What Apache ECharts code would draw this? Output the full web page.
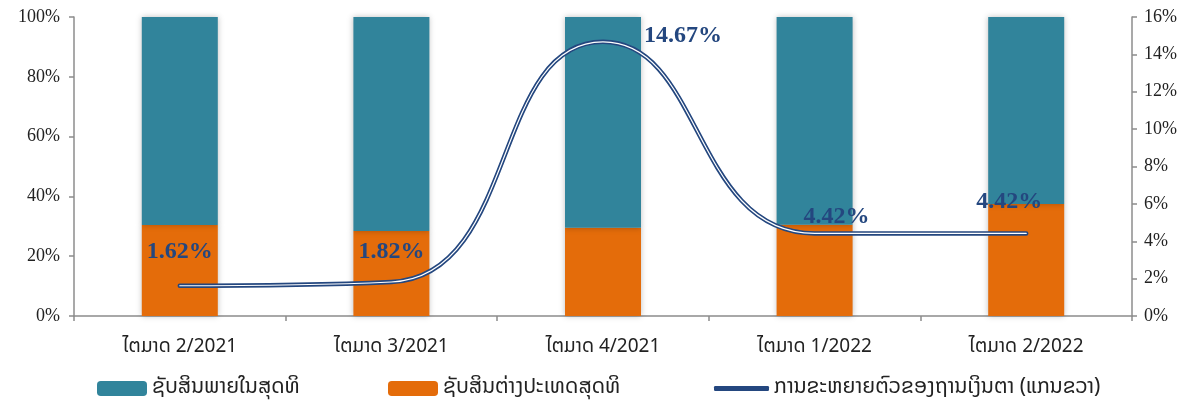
<!DOCTYPE html>
<html>
<head>
<meta charset="utf-8">
<script src="https://cdn.jsdelivr.net/npm/echarts@6/dist/echarts.min.js"></script>
<style>
html,body{margin:0;padding:0;background:#fff;}
#c{width:1195px;height:402px;}
</style>
</head>
<body>
<div id="c"></div>
<script>
var categories = ['ໄຕມາດ 2/2021', 'ໄຕມາດ 3/2021', 'ໄຕມາດ 4/2021', 'ໄຕມາດ 1/2022', 'ໄຕມາດ 2/2022'];
var foreignShare = [30.4, 28.4, 29.5, 30.5, 37.5];
var domesticShare = [69.6, 71.6, 70.5, 69.5, 62.5];
var growthRate = [1.62, 1.82, 14.67, 4.42, 4.42];
var leftTicks = [0, 20, 40, 60, 80, 100];
var rightTicks = [0, 2, 4, 6, 8, 10, 12, 14, 16];

var nameDomestic = 'ຊັບສິນພາຍໃນສຸດທິ';
var nameForeign = 'ຊັບສິນຕ່າງປະເທດສຸດທິ';
var nameGrowth = 'ການຂະຫຍາຍຕົວຂອງຖານເງິນຕາ (ແກນຂວາ)';

var laoFont = '"Noto Sans Lao", "DejaVu Sans", sans-serif';
var labelOffsets = [[0, -17], [0, -13], [36, -6], [22, 0], [-17, -15]];
var labelPositions = ['top', 'top', 'right', 'top', 'top'];

var lineData = growthRate.map(function (v, i) {
  return {
    value: v,
    label: { show: true, position: labelPositions[i], offset: labelOffsets[i] }
  };
});

var chart = echarts.init(document.getElementById('c'));
var axisColor = '#8c8c8c';
var barShadow = { shadowBlur: 6, shadowColor: 'rgba(0,0,0,0.25)', shadowOffsetX: 0, shadowOffsetY: 0 };
var legendText = { fontFamily: laoFont, fontSize: 21, color: '#222' };

chart.setOption({
  animation: false,
  backgroundColor: '#fff',
  grid: { left: 74, right: 63, top: 17, bottom: 86 },
  legend: [
    {
      data: [nameDomestic], left: 92, top: 373, itemWidth: 50, itemHeight: 15,
      textStyle: legendText
    },
    {
      data: [nameForeign], left: 383, top: 373, itemWidth: 50, itemHeight: 15,
      textStyle: legendText
    },
    {
      data: [{ name: nameGrowth, icon: 'roundRect' }], left: 709, top: 373, itemWidth: 55, itemHeight: 5,
      textStyle: legendText
    }
  ],
  xAxis: {
    type: 'category',
    data: categories,
    axisLine: { lineStyle: { color: axisColor, width: 1.5 } },
    axisTick: { show: true, alignWithLabel: false, length: 5, lineStyle: { color: axisColor, width: 1.5 } },
    axisLabel: { fontFamily: laoFont, fontSize: 19, color: '#222', margin: 22 }
  },
  yAxis: [
    {
      type: 'value', min: 0, max: 100, interval: 20,
      splitLine: { show: false },
      axisLine: { show: true, lineStyle: { color: axisColor, width: 1.5 } },
      axisTick: { show: true, length: 5, lineStyle: { color: axisColor, width: 1.5 } },
      axisLabel: {
        formatter: function (v) { return leftTicks.indexOf(v) >= 0 ? v + '%' : ''; },
        fontFamily: '"Liberation Serif", serif', fontSize: 18, color: '#222', margin: 14
      }
    },
    {
      type: 'value', min: 0, max: 16, interval: 2, position: 'right',
      splitLine: { show: false },
      axisLine: { show: true, lineStyle: { color: axisColor, width: 1.5 } },
      axisTick: { show: true, length: 5, lineStyle: { color: axisColor, width: 1.5 } },
      axisLabel: {
        formatter: function (v) { return rightTicks.indexOf(v) >= 0 ? v + '%' : ''; },
        fontFamily: '"Liberation Serif", serif', fontSize: 18, color: '#222', margin: 12
      }
    }
  ],
  series: [
    {
      name: nameForeign, type: 'bar', stack: 'share', data: foreignShare, barWidth: 76,
      itemStyle: Object.assign({ color: '#E46C0A' }, barShadow), z: 2
    },
    {
      name: nameDomestic, type: 'bar', stack: 'share', data: domesticShare, barWidth: 76,
      itemStyle: Object.assign({ color: '#31849B' }, barShadow), z: 2
    },
    {
      name: nameGrowth, type: 'line', yAxisIndex: 1, data: lineData, smooth: 0.5,
      symbol: 'circle', symbolSize: 0.1, showSymbol: true, z: 5,
      lineStyle: { color: '#24477F', width: 4.5, cap: 'round' },
      itemStyle: { color: '#24477F' },
      label: {
        show: true,
        formatter: function (p) { return p.value.toFixed(2) + '%'; },
        fontFamily: '"Liberation Serif", serif', fontWeight: 'bold', fontSize: 24, color: '#24477F'
      }
    },
    {
      name: 'inner', type: 'line', yAxisIndex: 1, data: growthRate, smooth: 0.5,
      symbol: 'none', z: 6, silent: true,
      lineStyle: { color: '#ffffff', width: 1.2, cap: 'round' }
    }
  ]
});
</script>
</body>
</html>
